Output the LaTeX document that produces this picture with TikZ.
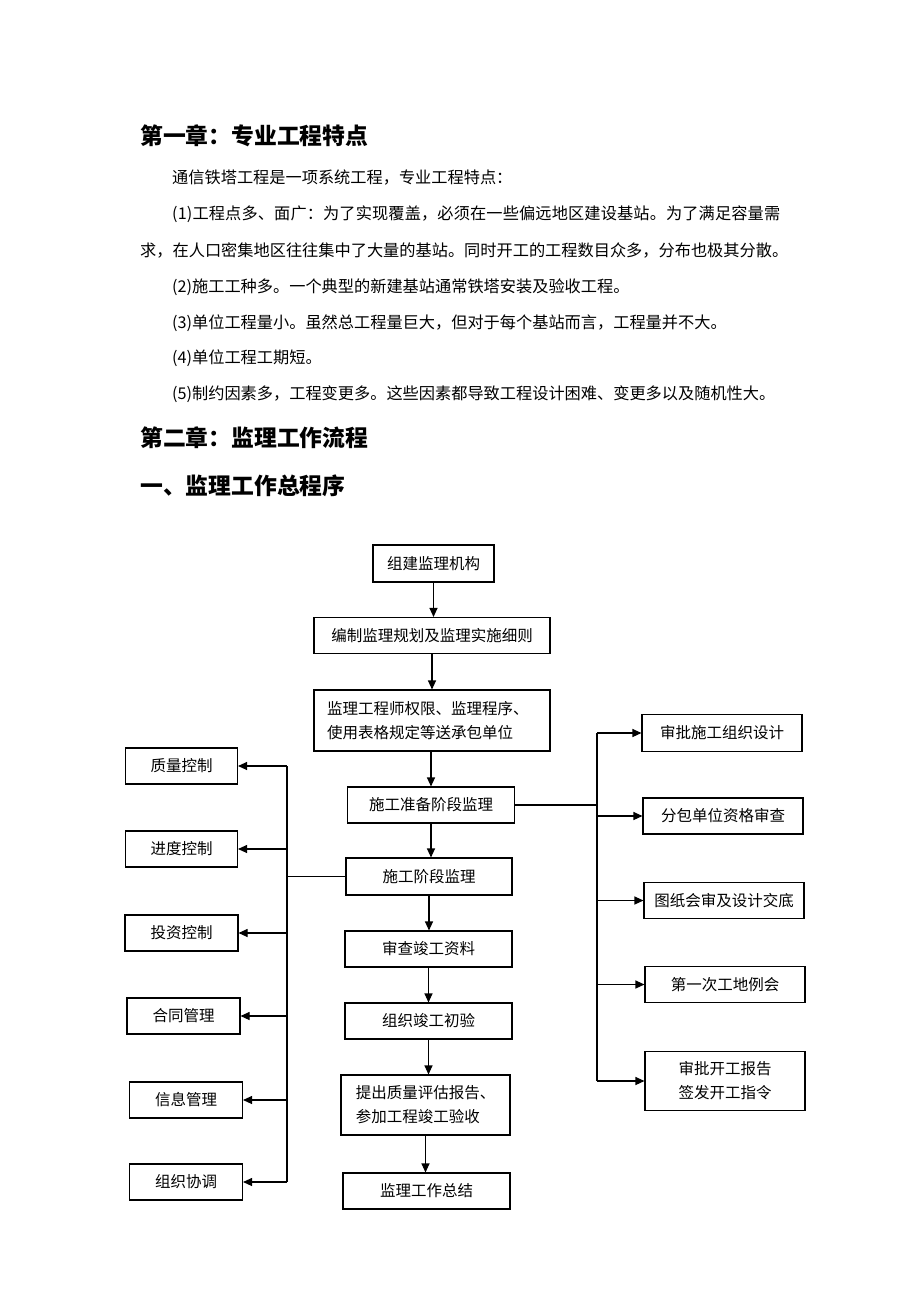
\documentclass[tikz,border=0pt]{standalone}
\usepackage{fontspec}
\setmainfont{Noto Sans CJK SC}
\usetikzlibrary{arrows.meta}

\begin{document}
\begin{tikzpicture}[x=1pt, y=-1pt,
    box/.style={draw, line width=1.1pt, inner sep=0pt, font=\fontsize{15.5}{24}\selectfont},
    txt/.style={anchor=west, inner sep=0pt, font=\fontsize{16.2}{16}\selectfont},
    head/.style={anchor=west, inner sep=0pt, font=\fontsize{22.8}{22}\selectfont\bfseries},
    arr/.style={line width=1.1pt, -{Triangle[length=9pt,width=8pt]}},
    ln/.style={line width=1.1pt}]
    \useasboundingbox (0,0) rectangle (920,1302);

    % text above the chart
    \node [head] (h1) at (140,136) {第一章：专业工程特点};
    \node [txt] (p0) at (172,178) {通信铁塔工程是一项系统工程，专业工程特点：};
    \node [txt] (p1) at (172,214) {\addfontfeature{LetterSpace=0.8}(1)工程点多、面广：为了实现覆盖，必须在一些偏远地区建设基站。为了满足容量需};
    \node [txt] (p1b) at (140,250) {求，在人口密集地区往往集中了大量的基站。同时开工的工程数目众多，分布也极其分散。};
    \node [txt] (p2) at (172,287) {(2)施工工种多。一个典型的新建基站通常铁塔安装及验收工程。};
    \node [txt] (p3) at (172,323) {(3)单位工程量小。虽然总工程量巨大，但对于每个基站而言，工程量并不大。};
    \node [txt] (p4) at (172,358) {(4)单位工程工期短。};
    \node [txt] (p5) at (172,394) {(5)制约因素多，工程变更多。这些因素都导致工程设计困难、变更多以及随机性大。};
    \node [head] (h2) at (140,438) {第二章：监理工作流程};
    \node [head] (h3) at (140,486) {一、监理工作总程序};

    % main column
    \node [box, minimum width=121, minimum height=37] (org) at (433.5,563.5) {组建监理机构};
    \node [box, minimum width=236, minimum height=36] (plan) at (432,635.5) {编制监理规划及监理实施细则};
    \node [box, minimum width=236, minimum height=61, text width=210, align=left] (auth) at (432,720.5) {监理工程师权限、监理程序、\\使用表格规定等送承包单位};
    \node [box, minimum width=167, minimum height=36] (prep) at (431,805) {施工准备阶段监理};
    \node [box, minimum width=166, minimum height=37] (cons) at (429,876.5) {施工阶段监理};
    \node [box, minimum width=167, minimum height=36] (audit) at (428.5,949) {审查竣工资料};
    \node [box, minimum width=167, minimum height=36] (first) at (428.5,1021) {组织竣工初验};
    \node [box, minimum width=169, minimum height=60, align=left] (rep) at (425.5,1105) {提出质量评估报告、\\参加工程竣工验收};
    \node [box, minimum width=167, minimum height=36] (sum) at (426.5,1191) {监理工作总结};

    % left column
    \node [box, minimum width=112, minimum height=36] (qual) at (181.5,766) {质量控制};
    \node [box, minimum width=112, minimum height=36] (sched) at (181.5,849) {进度控制};
    \node [box, minimum width=113, minimum height=36] (cost) at (181.5,933) {投资控制};
    \node [box, minimum width=113, minimum height=36] (contr) at (183.5,1016) {合同管理};
    \node [box, minimum width=113, minimum height=36] (info) at (186,1100) {信息管理};
    \node [box, minimum width=113, minimum height=36] (coord) at (186,1182) {组织协调};

    % right column
    \node [box, minimum width=160, minimum height=37] (design) at (722,733) {审批施工组织设计};
    \node [box, minimum width=160, minimum height=36] (sub) at (723,816) {分包单位资格审查};
    \node [box, minimum width=160, minimum height=36] (draw) at (724,900.5) {图纸会审及设计交底};
    \node [box, minimum width=160, minimum height=36] (meet) at (725,984.5) {第一次工地例会};
    \node [box, minimum width=160, minimum height=59, align=center] (start) at (725,1081) {审批开工报告\\签发开工指令};

    \coordinate (lt) at (287,766);
    \coordinate (lb) at (287,1182);
    \coordinate (rt) at (597,733);
    \coordinate (rb) at (597,1081);

    % main flow
    \draw [arr] (org.south) -- (org.south |- plan.north);
    \draw [arr] (plan.south) -- (plan.south |- auth.north);
    \draw [arr] (prep.north |- auth.south) -- (prep.north);
    \draw [arr] (prep.south) -- (prep.south |- cons.north);
    \draw [arr] (cons.south) -- (cons.south |- audit.north);
    \draw [arr] (audit.south) -- (audit.south |- first.north);
    \draw [arr] (first.south) -- (first.south |- rep.north);
    \draw [arr] (rep.south) -- (rep.south |- sum.north);

    % left branch
    \draw [ln] (cons.west) -- (cons.west -| lt);
    \draw [ln] (lt) -- (lb);
    \draw [arr] (lt) -- (qual.east);
    \draw [arr] (sched.east -| lt) -- (sched.east);
    \draw [arr] (cost.east -| lt) -- (cost.east);
    \draw [arr] (contr.east -| lt) -- (contr.east);
    \draw [arr] (info.east -| lt) -- (info.east);
    \draw [arr] (lb) -- (coord.east);

    % right branch
    \draw [ln] (prep.east) -- (prep.east -| rt);
    \draw [ln] (rt) -- (rb);
    \draw [arr] (rt) -- (design.west);
    \draw [arr] (sub.west -| rt) -- (sub.west);
    \draw [arr] (draw.west -| rt) -- (draw.west);
    \draw [arr] (meet.west -| rt) -- (meet.west);
    \draw [arr] (rb) -- (start.west);
\end{tikzpicture}
\end{document}
